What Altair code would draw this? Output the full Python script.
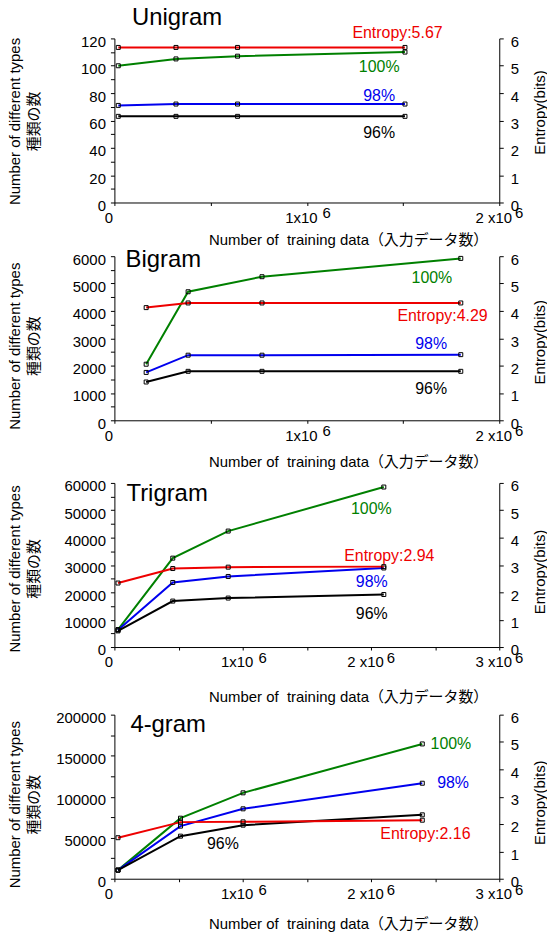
import altair as alt
import pandas as pd

FONT = "Liberation Sans, Arial, Noto Sans CJK JP"
GREEN = "#008000"
BLUE = "#0000ee"
RED = "#ee0000"
BLACK = "#000000"

SERIES = ["100%", "98%", "96%"]

# ---------------- data ----------------
# Unigram
uni_x = [20000, 320000, 640000, 1510000]
uni_100 = [100, 105, 107, 110]
uni_98 = [71, 72, 72, 72]
uni_96 = [63, 63, 63, 63]
uni_ent = [5.67, 5.67, 5.67, 5.67]

# Bigram
bi_x = [165000, 383000, 767000, 1800000]
bi_100 = [2050, 4700, 5250, 5920]
bi_98 = [1750, 2380, 2380, 2400]
bi_96 = [1400, 1790, 1790, 1790]
bi_ent = [4.12, 4.29, 4.29, 4.29]

# Trigram
tri_x = [28000, 455000, 887000, 2100000]
tri_100 = [6400, 32500, 42400, 58500]
tri_98 = [6200, 23600, 25800, 28900]
tri_96 = [5900, 16800, 17900, 19200]
tri_ent = [2.34, 2.87, 2.92, 2.94]

# 4-gram
four_x = [28000, 515000, 1003000, 2400000]
four_100 = [10500, 73800, 104700, 164300]
four_98 = [10500, 64100, 85200, 116400]
four_96 = [10500, 51900, 65300, 77900]
four_ent = [1.50, 2.07, 2.08, 2.14]

# axis settings
uni_ymax, uni_ystep = 120, 20
bi_ymax, bi_ystep = 6000, 1000
tri_ymax, tri_ystep = 60000, 10000
four_ymax, four_ystep = 200000, 50000

# label annotations: (x, y) ; entropy label y in bits
uni_labels = {"100%": (1376000, 98.9), "98%": (1376000, 78.2), "96%": (1376000, 50.8)}
uni_ent_label = ("Entropy:5.67", 1471000, 6.19)
bi_labels = {"100%": (1650000, 5209), "98%": (1646000, 2775), "96%": (1646000, 1156)}
bi_ent_label = ("Entropy:4.29", 1705000, 3.83)
tri_labels = {"100%": (2003000, 50303), "98%": (2006000, 23636), "96%": (2006000, 12242)}
tri_ent_label = ("Entropy:2.94", 2143000, 3.31)
four_labels = {"100%": (2623000, 164700), "98%": (2640000, 116800), "96%": (846000, 41780)}
four_ent_label = ("Entropy:2.16", 2424000, 1.62)

W, H = 387, 165
GAPS = [54, 62.7, 67.3]  # vertical gaps between consecutive plot areas

panels = [
    dict(name="Unigram", x=uni_x, s=[uni_100, uni_98, uni_96], ent=uni_ent, ymax=uni_ymax,
         ystep=uni_ystep, xmax=2000000, labels=uni_labels, ent_label=uni_ent_label,
         title_pos=(91000, 129.7), xty=37, lty=83, rty=74),
    dict(name="Bigram", x=bi_x, s=[bi_100, bi_98, bi_96], ent=bi_ent, ymax=bi_ymax,
         ystep=bi_ystep, xmax=2000000, labels=bi_labels, ent_label=bi_ent_label,
         title_pos=(58000, 5598), xty=41, lty=90, rty=86),
    dict(name="Trigram", x=tri_x, s=[tri_100, tri_98, tri_96], ent=tri_ent, ymax=tri_ymax,
         ystep=tri_ystep, xmax=3000000, labels=tri_labels, ent_label=tri_ent_label,
         title_pos=(94000, 53345), xty=50, lty=86, rty=89),
    dict(name="4-gram", x=four_x, s=[four_100, four_98, four_96], ent=four_ent, ymax=four_ymax,
         ystep=four_ystep, xmax=3000000, labels=four_labels, ent_label=four_ent_label,
         title_pos=(124500, 178467), xty=45.5, lty=90, rty=88),
]

color_scale = alt.Scale(domain=SERIES, range=[GREEN, BLUE, BLACK])
width_scale = alt.Scale(domain=SERIES, range=[2, 2, 1])


def make_panel(p):
    xmax = p["xmax"]
    xvals = [i * 500000 for i in range(int(xmax / 500000) + 1)]
    sup_vals = [v for v in xvals if v > 0 and v % 1000000 == 0]
    xaxis = alt.Axis(
        values=xvals,
        labelExpr="datum.value === 0 ? '0' : datum.value === 1000000 ? '1x10' : "
                  "datum.value === 2000000 ? '2 x10' : datum.value === 3000000 ? '3 x10' : ''",
        title="Number of\u00a0 training data\uff08\u5165\u529b\u30c7\u30fc\u30bf\u6570\uff09",
        titleX=235, titleY=p["xty"], titleAlign="center", titleBaseline="middle",
        tickSize=3, labelPadding=5, labelFlush=False, labelOverlap=False, labelOffset=-6,
        grid=False,
    )
    xenc = alt.X("x:Q", scale=alt.Scale(domain=[0, xmax], nice=False, zero=True), axis=xaxis)

    ystep = p["ystep"]
    yvals = [i * ystep / 2 for i in range(13 if p["ymax"] / ystep == 6 else 9)]
    laxis = alt.Axis(
        values=yvals, format="d",
        labelExpr=f"datum.value % {ystep} === 0 ? datum.label : ''",
        title=["Number of different types", "\u7a2e\u985e\u306e\u6570"],
        titleAngle=270, titleAlign="center", titleBaseline="middle",
        titleX=-100, titleY=p["lty"], titleLineHeight=19,
        tickSize=4, labelPadding=5, labelOffset=3, labelOverlap=False, grid=False,
    )
    yl = alt.Y("y:Q", scale=alt.Scale(domain=[0, p["ymax"]], nice=False), axis=laxis)

    rows = []
    for name, vals in zip(SERIES, p["s"]):
        for xv, yv in zip(p["x"], vals):
            rows.append({"x": xv, "y": yv, "series": name})
    df = pd.DataFrame(rows)

    ldf = pd.DataFrame([{"x": p["labels"][k][0], "y": p["labels"][k][1], "series": k, "text": k}
                        for k in SERIES])
    tdf = pd.DataFrame([{"x": p["title_pos"][0], "y": p["title_pos"][1], "text": p["name"]}])
    sdf = pd.DataFrame({"x": sup_vals, "text": ["6"] * len(sup_vals)})

    lines = alt.Chart(df).mark_line(clip=False).encode(
        x=xenc, y=yl,
        color=alt.Color("series:N", scale=color_scale, legend=None),
        strokeWidth=alt.StrokeWidth("series:N", scale=width_scale, legend=None),
        detail="series:N",
    )
    pts = alt.Chart(df).mark_point(shape="square", filled=False, color=BLACK, size=16,
                                   strokeWidth=1, opacity=1).encode(x=xenc, y=yl)
    labs = alt.Chart(ldf).mark_text(fontSize=16, font=FONT, align="center",
                                    baseline="middle").encode(
        x=xenc, y=yl, text="text:N",
        color=alt.Color("series:N", scale=color_scale, legend=None),
    )
    ttl = alt.Chart(tdf).mark_text(fontSize=24, font=FONT, align="left",
                                   baseline="alphabetic", color=BLACK).encode(
        x=xenc, y=yl, text="text:N")
    sup = alt.Chart(sdf).mark_text(fontSize=15, font=FONT, dx=20, color=BLACK,
                                   baseline="middle").encode(
        x=xenc, y=alt.value(H + 11), text="text:N")
    left = alt.layer(lines, pts, labs, ttl, sup)

    raxis = alt.Axis(
        orient="right", values=[i / 2 for i in range(13)], format="d",
        labelExpr="datum.value % 1 === 0 ? datum.label : ''",
        title="Entropy(bits)", titleAngle=270, titleAlign="center", titleBaseline="middle",
        titleX=40, titleY=p["rty"],
        tickSize=4, labelPadding=7, labelOffset=3, labelOverlap=False, grid=False,
    )
    yr = alt.Y("y:Q", scale=alt.Scale(domain=[0, 6], nice=False), axis=raxis)
    edf = pd.DataFrame({"x": p["x"], "y": p["ent"]})
    el = p["ent_label"]
    eldf = pd.DataFrame([{"x": el[1], "y": el[2], "text": el[0]}])
    eline = alt.Chart(edf).mark_line(color=RED, strokeWidth=2, clip=False).encode(x=xenc, y=yr)
    epts = alt.Chart(edf).mark_point(shape="square", filled=False, color=BLACK, size=16,
                                     strokeWidth=1, opacity=1).encode(x=xenc, y=yr)
    elab = alt.Chart(eldf).mark_text(fontSize=16, font=FONT, color=RED, align="center",
                                     baseline="middle").encode(x=xenc, y=yr, text="text:N")
    right = alt.layer(eline, epts, elab)

    return alt.layer(left, right).resolve_scale(y="independent").properties(width=W, height=H)


def spacer(h):
    return alt.Chart(pd.DataFrame({"v": [0]})).mark_point(opacity=0, size=1).encode(
        x=alt.value(0), y=alt.value(0)
    ).properties(width=W, height=h)


items = []
for i, p in enumerate(panels):
    items.append(make_panel(p))
    if i < len(GAPS):
        items.append(spacer(GAPS[i]))

chart = alt.vconcat(*items, spacing=0, bounds="flush").properties(
    padding={"top": -5, "left": 0, "right": 0, "bottom": 0}
).configure_axis(
    domainColor=BLACK, tickColor=BLACK, labelColor=BLACK, titleColor=BLACK,
    labelFont=FONT, titleFont=FONT, labelFontSize=15, titleFontSize=15,
    titleFontWeight="normal", domainWidth=1, tickWidth=1,
).configure_view(stroke=None)

chart.save("out.html", embed_options={"renderer": "svg", "actions": False})
